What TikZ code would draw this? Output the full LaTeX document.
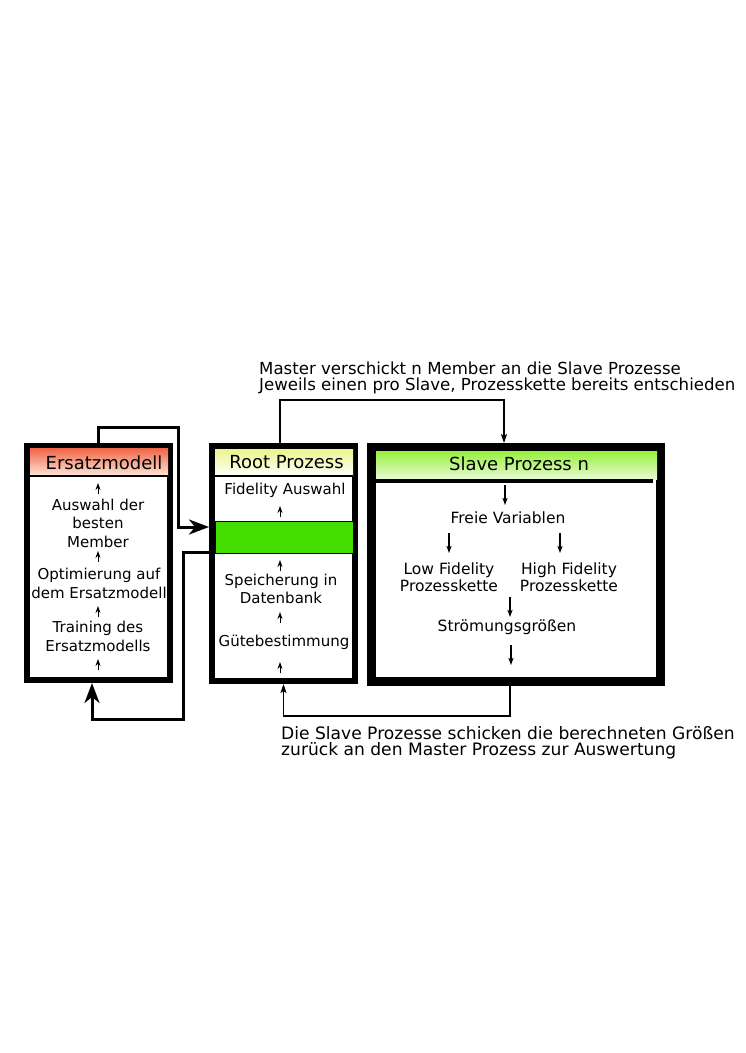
\documentclass[tikz,border=0pt]{standalone}
\usepackage{fontspec}
\setmainfont{DejaVu Sans}
\usetikzlibrary{positioning,arrows.meta}
\definecolor{redtop}{RGB}{240,100,70}
\definecolor{redbot}{RGB}{255,232,218}
\definecolor{yeltop}{RGB}{235,245,140}
\definecolor{greentop}{RGB}{150,240,60}
\definecolor{greenbot}{RGB}{232,250,212}
\definecolor{bargreen}{RGB}{68,221,0}
\tikzstyle{frame} = [draw, rectangle, line width=6pt, fill=white, inner sep=0pt]
\tikzstyle{head} = [rectangle, inner sep=0pt]
\tikzstyle{txt} = [draw=none, fill=none, text centered, align=center, inner sep=0pt, font=\fontsize{15}{18.5}\selectfont]
\tikzstyle{stxt} = [txt, font=\fontsize{15.5}{17.5}\selectfont]
\tikzstyle{htxt} = [draw=none, fill=none, text centered, inner sep=0pt, font=\fontsize{18}{20}\selectfont]
\tikzstyle{note} = [draw=none, fill=none, align=left, anchor=west, inner sep=0pt, font=\fontsize{16.6}{16.5}\selectfont]
\tikzstyle{up}   = [draw, line width=1pt, -{Stealth[length=7pt,width=5pt,inset=2.5pt]}]
\tikzstyle{down} = [draw, line width=1.2pt, -{Stealth[length=7pt,width=5pt,inset=1.5pt]}]
\tikzstyle{loop} = [draw, line width=3pt, -{Stealth[length=20pt,width=15pt,inset=6pt]}]
\tikzstyle{send} = [draw, line width=1.5pt, -{Stealth[length=9pt,width=6pt,inset=2pt]}]

\begin{document}
\begin{tikzpicture}[x=1pt,y=-1pt]
	\useasboundingbox (0,0) rectangle (745,1053);

	% frames
	\node [frame, minimum width=143pt, minimum height=234pt] (ersatz) at (98.5,563) {};
	\node [frame, minimum width=143pt, minimum height=235pt] (root) at (283.5,563.5) {};
	\node [frame, line width=9pt, minimum width=289pt, minimum height=234pt] (slave) at (516,564.5) {};

	% headers
	\node [head, top color=redtop, bottom color=redbot, minimum width=138pt, minimum height=28pt] (Hersatz) at (99,462) {};
	\node [head, top color=yeltop, bottom color=white, minimum width=138pt, minimum height=27pt] (Hroot) at (284,462.5) {};
	\node [head, top color=greentop, bottom color=greenbot, minimum width=281pt, minimum height=28pt] (Hslave) at (516.5,465) {};
	\draw [line width=2pt] (Hersatz.south west) -- (Hersatz.south east);
	\draw [line width=2pt] (Hroot.south west) -- (Hroot.south east);
	\draw [line width=4pt] ([yshift=-2pt]Hslave.south west) -- ([yshift=-2pt,xshift=-4pt]Hslave.south east);
	\node [htxt] (T1) at (104,463) {Ersatzmodell};
	\node [htxt] (T2) at (286.5,462) {Root Prozess};
	\node [htxt] (T3) at (519,464) {Slave Prozess n};

	% green bar
	\node [rectangle, draw, line width=1pt, fill=bargreen, minimum width=138pt, minimum height=32pt, inner sep=0pt] (bar) at (284,537) {};

	% surrogate model
	\node [txt] (E1) at (98,523) {Auswahl der\\besten\\Member};
	\node [txt] (E2) at (99,583.5) {Optimierung auf\\dem Ersatzmodell};
	\node [txt] (E3) at (98,636.5) {Training des\\Ersatzmodells};
	\path [up] (E1.north |- 0,494) -- ++(0,-11);
	\path [up] (E1.north |- 0,562) -- ++(0,-11);
	\path [up] (E1.north |- 0,617) -- ++(0,-11);
	\path [up] (E1.north |- 0,670) -- ++(0,-11);

	% root process
	\node [txt] (R1) at (285,490) {Fidelity Auswahl};
	\node [txt] (R2) at (281,589) {Speicherung in\\Datenbank};
	\node [txt] (R3) at (284,642) {Gütebestimmung};
	\path [up] (280,517) -- ++(0,-11);
	\path [up] (280,571) -- ++(0,-11);
	\path [up] (280,623) -- ++(0,-11);
	\path [up] (280,673) -- ++(0,-11);

	% slave process
	\node [stxt] (S1) at (508,518) {Freie Variablen};
	\node [stxt] (S2) at (449,577) {Low Fidelity\\Prozesskette};
	\node [stxt] (S3) at (569,577) {High Fidelity\\Prozesskette};
	\node [stxt] (S4) at (507,627) {Strömungsgrößen};
	\path [down] (505,485) -- (505,505);
	\path [down] (449,533) -- (449,553);
	\path [down] (560,533) -- (560,553);
	\path [down] (510,597) -- (510,617);
	\path [down] (511,645) -- (511,665);

	% loops between surrogate model and root
	\coordinate (c1) at (178,427);
	\coordinate (c2) at (178,527);
	\coordinate (c3) at (183,552);
	\coordinate (c4) at (92,719);
	\path [loop] (ersatz.north) |- (c1) -- (c2) -- (c2 -| root.west);
	\path [loop] (c3 -| root.west) -- (c3) |- (c4) -- (c4 |- ersatz.south);

	% master <-> slave
	\coordinate (m1) at (280,400);
	\coordinate (m2) at (504,400);
	\coordinate (r1) at (510,716);
	\path [send] (root.north -| m1) -- (m1) -- (m2) -- (m2 |- slave.north);
	\path [send] (slave.south -| r1) -- (r1) -| (root.south);

	% notes
	\node [note] (N1) at (259,378) {Master verschickt n Member an die Slave Prozesse\\Jeweils einen pro Slave, Prozesskette bereits entschieden};
	\node [note, font=\fontsize{17.1}{16.5}\selectfont] (N2) at (281,743) {Die Slave Prozesse schicken die berechneten Größen\\zurück an den Master Prozess zur Auswertung};
\end{tikzpicture}
\end{document}
